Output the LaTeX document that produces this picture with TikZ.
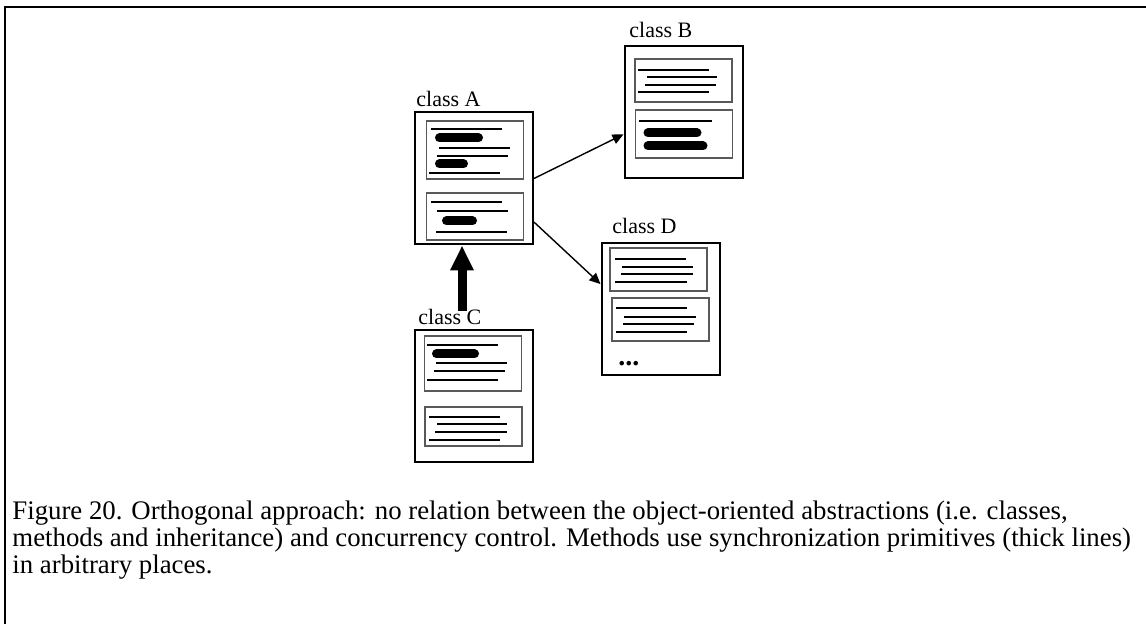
\documentclass[tikz,border=0pt]{standalone}
\usepackage{fontspec}
\setmainfont{Liberation Serif}
\usetikzlibrary{arrows.meta, positioning}

\begin{document}
\begin{tikzpicture}[
    % one unit is one pixel of the original figure
    x=0.5pt, y=-0.5pt,
    % Style for the class boxes
    classbox/.style={
        rectangle,
        draw=black,
        line width=1pt,
        inner sep=0pt,
        minimum width=59pt,
        minimum height=66pt
    },
    % Style for the method boxes inside a class
    methodbox/.style={
        rectangle,
        draw=black!65,
        line width=0.6pt,
        inner sep=0pt,
        minimum width=48.5pt
    },
    % Ordinary code lines and synchronization primitives
    codeline/.style={line width=0.75pt},
    syncline/.style={line width=4.5pt, line cap=round},
    % Texts
    classlabel/.style={anchor=base west, inner sep=0pt, font=\fontsize{11}{12.5}\selectfont},
    % Connections
    link/.style={-{Triangle[length=5.5pt, width=5pt]}, line width=0.7pt},
    inherit/.style={-{Triangle[length=12.5pt, width=11pt]}, line width=4.5pt}
]
\useasboundingbox (0,0) rectangle (1146,624);

% Frame of the figure
\draw[line width=1pt] (5,630) -- (5,7) -- (1150,7);

% 1. The classes
\node[classbox] (classA) at (474,178.5) {};
\node[classbox] (classB) at (683.5,112.5) {};
\node[classbox] (classC) at (473.5,396.5) {};
\node[classbox] (classD) at (660.5,309.5) {};

\node[classlabel] (lblA) at (416,107) {class A};
\node[classlabel] (lblB) at (629,38) {class B};
\node[classlabel] (lblC) at (418,325) {class C};
\node[classlabel] (lblD) at (612,234) {class D};

% 2. The methods of each class
\node[methodbox, minimum height=29pt] (methA1) at (475,150) {};
\node[methodbox, minimum height=23.5pt] (methA2) at (475,216.5) {};
\node[methodbox, minimum height=21.5pt] (methB1) at (683.5,80.5) {};
\node[methodbox, minimum height=24pt] (methB2) at (684,134) {};
\node[methodbox, minimum height=27.5pt] (methC1) at (473,363.5) {};
\node[methodbox, minimum height=19.5pt] (methC2) at (473.5,426.5) {};
\node[methodbox, minimum height=21.5pt] (methD1) at (658.5,269.5) {};
\node[methodbox, minimum height=21.5pt] (methD2) at (660.5,319.5) {};

% code lines
\foreach \a/\b/\y in {431/502/129, 439/510/148, 437/508/156, 429/500/173,
                      431/502/202, 437/508/211, 436/507/232,
                      638/709/70, 647/717/77, 645/716/85, 638/709/92,
                      639/712/121,
                      427/498/345, 436/507/363, 434/505/371, 427/498/380,
                      429/500/417, 437/507/424, 435/507/432, 429/500/440,
                      615/686/259, 622/693/267, 621/693/274, 615/687/282,
                      616/687/308, 624/696/317, 623/694/324, 616/687/332}
    \draw[codeline] (\a,\y) -- (\b,\y);

% synchronization primitives (thick lines)
\foreach \a/\b/\y in {439.5/478.5/138, 439.5/463.5/164, 446.5/472.5/221,
                      648/697/133, 648/703/146, 436.5/474.5/354}
    \draw[syncline] (\a,\y) -- (\b,\y);

\node[classlabel, font=\fontsize{14}{14}\selectfont\bfseries] (more) at (618,366) {...};

% 3. The connections
\draw[link] (classA.east) -- (classB.200);
\draw[link] (classA.-36) -- (classD.157);

\coordinate (inh) at (462,311);
\draw[inherit] (inh) -- (inh |- classA.south);

% 4. Caption
\node[anchor=base west, align=left, inner sep=0pt,
      font=\fontsize{13.4}{13.6}\selectfont] (caption) at (12,574)
    {Figure 20. Orthogonal approach: no relation between the object-oriented abstractions (i.e. classes,\\
     methods and inheritance) and concurrency control. Methods use synchronization primitives (thick lines)\\
     in arbitrary places.};

\end{tikzpicture}
\end{document}
